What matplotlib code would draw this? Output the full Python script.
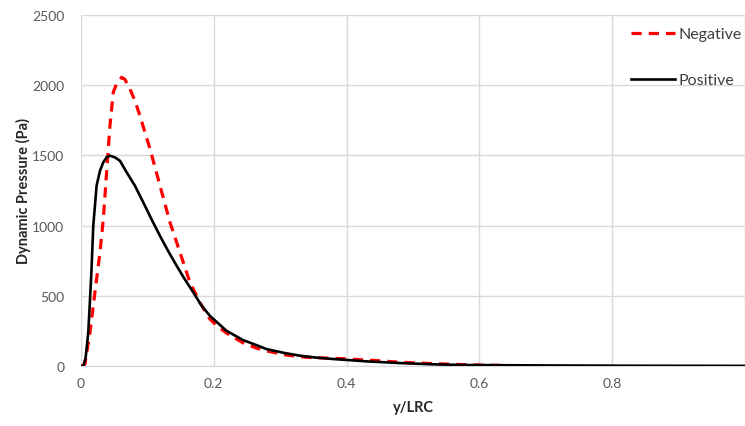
import matplotlib
matplotlib.use("Agg")
import matplotlib.pyplot as plt

plt.rcParams['font.family'] = ['Lato', 'DejaVu Sans']

# Positive (solid black)
pos_x = [0, 0.0035, 0.007, 0.011, 0.0155, 0.0185, 0.0235, 0.0286, 0.0336, 0.0386,
         0.0436, 0.051, 0.0586, 0.0687, 0.0812, 0.0937, 0.106, 0.1188, 0.131, 0.144,
         0.156, 0.169, 0.181, 0.194, 0.219, 0.244, 0.269, 0.279, 0.304, 0.329,
         0.354, 0.379, 0.43, 0.48, 0.53, 0.58, 0.7, 0.82, 1.0]
pos_y = [0, 0, 60, 242, 650, 1000, 1284, 1391, 1451, 1486,
         1498, 1486, 1462, 1380, 1284, 1166, 1047, 928, 821, 714,
         620, 525, 434, 358, 251, 185, 140, 121, 95, 74,
         60, 50, 33, 21, 12, 7, 4, 2, 1]

# Negative (dashed red)
neg_x = [0, 0.003, 0.006, 0.0135, 0.021, 0.0286, 0.0336, 0.0386, 0.0436, 0.0486,
         0.0536, 0.061, 0.066, 0.0737, 0.0812, 0.0887, 0.104, 0.119, 0.134, 0.149,
         0.164, 0.179, 0.194, 0.204, 0.219, 0.244, 0.264, 0.279, 0.309, 0.339,
         0.394, 0.44, 0.48, 0.53, 0.58, 0.635]
neg_y = [0, 0, 14, 240, 525, 810, 1047, 1380, 1711, 1950,
         2009, 2056, 2042, 1973, 1890, 1783, 1545, 1284, 1023, 810,
         596, 453, 335, 290, 235, 165, 128, 108, 78, 62,
         52, 40, 27, 17, 9, 4]

x_ticks = [0, 0.2, 0.4, 0.6, 0.8, 1.0]
x_tick_labels = ['0', '0.2', '0.4', '0.6', '0.8', '']
y_ticks = [0, 500, 1000, 1500, 2000, 2500]

fig = plt.figure(figsize=(7.45, 4.27), dpi=100)
ax = fig.add_axes([81/745, 60/427, 664/745, 351/427])

ax.plot(neg_x, neg_y, color='#ff0000', lw=2.3, ls=(0, (3.2, 2.2)), label='Negative', zorder=3)
ax.plot(pos_x, pos_y, color='black', lw=1.9, label='Positive', zorder=4)

ax.set_xlim(0, 1.0)
ax.set_ylim(0, 2500)
ax.set_xticks(x_ticks)
ax.set_xticklabels(x_tick_labels)
ax.set_yticks(y_ticks)
ax.grid(True, color='#d9d9d9', lw=1.0)
ax.set_axisbelow(True)
for s in ['top', 'right', 'left']:
    ax.spines[s].set_visible(False)
ax.spines['bottom'].set_color('#d9d9d9')
ax.tick_params(axis='both', length=0, labelsize=10, colors='#595959', pad=8)
ax.tick_params(axis='y', pad=12)

ax.set_xlabel('y/LRC', fontsize=10.5, fontweight='bold', color='#262626', labelpad=8)
ax.set_ylabel('Dynamic Pressure (Pa)', fontsize=10.5, fontweight='bold', color='#262626', labelpad=1)

leg = ax.legend(loc='upper left', bbox_to_anchor=(623/745, 1 - 20/427), bbox_transform=fig.transFigure,
                frameon=False, borderpad=0, handlelength=2.75, handletextpad=0.25,
                labelspacing=2.0, fontsize=11.5)
for t in leg.get_texts():
    t.set_color('#404040')

fig.savefig('out.png', dpi=100)
